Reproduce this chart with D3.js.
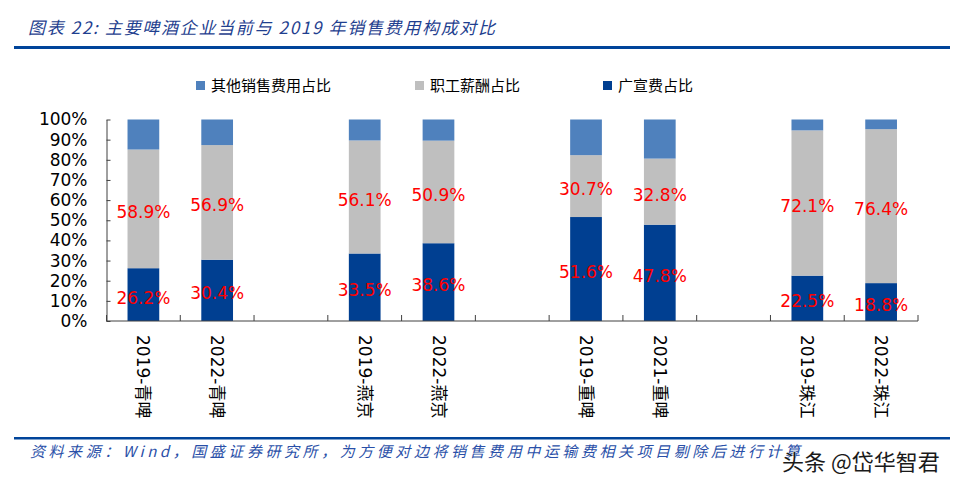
<!DOCTYPE html>
<html><head><meta charset="utf-8">
<script src="https://cdn.jsdelivr.net/npm/d3@7"></script>
<style>
html,body{margin:0;padding:0;background:#fff;}
svg{display:block;}
</style></head>
<body>
<svg id="chart" width="976" height="488"></svg>
<script>
// ---- data ----
const categories = ["2019-青啤","2022-青啤","gap1","2019-燕京","2022-燕京","gap2","2019-重啤","2021-重啤","gap3","2019-珠江","2022-珠江"];
const adShare     = [26.2, 30.4, null, 33.5, 38.6, null, 51.6, 47.8, null, 22.5, 18.8];
const salaryShare = [58.9, 56.9, null, 56.1, 50.9, null, 30.7, 32.8, null, 72.1, 76.4];
const otherShare  = [14.9, 12.7, null, 10.4, 10.5, null, 17.7, 19.4, null, 5.4, 4.8];
const yTicks = [0,10,20,30,40,50,60,70,80,90,100];
const seriesNames = ["其他销售费用占比","职工薪酬占比","广宣费占比"];
const titleText = "图表 22:  主要啤酒企业当前与 2019 年销售费用构成对比";
const sourceText = "资料来源：Wind，国盛证券研究所，为方便对边将销售费用中运输费相关项目剔除后进行计算";
const watermark = "头条 @岱华智君";

const colors = {ad:"#003F91", salary:"#BFBFBF", other:"#4F81BD"};
const svg = d3.select("#chart");

// header
svg.append("text").attr("x",28).attr("y",34)
  .attr("font-family","'Noto Sans CJK SC', sans-serif").attr("font-size",17)
  .attr("font-style","italic").attr("fill","#1F3F8F")
  .attr("textLength",467).attr("lengthAdjust","spacing")
  .text(titleText);
svg.append("rect").attr("x",14).attr("y",46).attr("width",936).attr("height",3).attr("fill","#00449A");

// scales
const x = d3.scaleBand().domain(categories).range([106.5, 918]).padding(0);
const y = d3.scaleLinear().domain([0,100]).range([321, 119.5]);
const barW = x.bandwidth()*0.43;

// stacked data
const rows = categories.map((c,i)=>({cat:c, ad:adShare[i], salary:salaryShare[i], other:otherShare[i]}))
  .filter(d=>d.ad!==null);
const stack = d3.stack().keys(["ad","salary","other"])(rows);

const g = svg.append("g");
stack.forEach(layer=>{
  g.selectAll(null).data(layer).join("rect")
    .attr("x", d=>x(d.data.cat)+x.bandwidth()/2-barW/2)
    .attr("width", barW)
    .attr("y", d=>y(d[1]))
    .attr("height", d=>y(d[0])-y(d[1]))
    .attr("fill", colors[layer.key]);
});

// axes
const yAxis = d3.axisLeft(y).tickValues(yTicks).tickFormat(d=>d+"%").tickSizeInner(-4).tickSizeOuter(0).tickPadding(19);
const ya = svg.append("g").attr("transform","translate(106.5,0)").call(yAxis);
ya.select(".domain").attr("stroke","#404040");
ya.selectAll(".tick line").attr("stroke","#404040");
ya.selectAll("text").attr("font-family","'DejaVu Sans', sans-serif").attr("font-size",17).attr("fill","#000");

const xa = svg.append("g").attr("transform","translate(0,321)");
xa.append("line").attr("x1",x.range()[0]).attr("x2",x.range()[1]).attr("stroke","#404040");
const boundaries = categories.map(c=>x(c)).concat([x.range()[1]]);
xa.selectAll(".bt").data(boundaries).join("line")
  .attr("x1",d=>d).attr("x2",d=>d).attr("y1",0).attr("y2",-6).attr("stroke","#404040");
categories.forEach(c=>{
  if (c.startsWith("gap")) return;
  xa.append("text")
    .attr("transform",`translate(${x(c)+x.bandwidth()/2},14) rotate(90)`)
    .attr("dy","0.35em")
    .attr("font-family","'DejaVu Sans', 'Noto Sans CJK SC', sans-serif").attr("font-size",17).attr("fill","#000")
    .text(c);
});

// data labels
const lab = svg.append("g").attr("font-family","'DejaVu Sans', sans-serif").attr("font-size",17)
  .attr("fill","#FF0000").attr("text-anchor","middle");
stack.filter(l=>l.key!=="other").forEach(layer=>{
  lab.selectAll(null).data(layer).join("text")
    .attr("x", d=>x(d.data.cat)+x.bandwidth()/2)
    .attr("y", d=>(y(d[0])+y(d[1]))/2+3)
    .attr("dy","0.35em")
    .text(d=>d3.format(".1f")(d.data[layer.key])+"%");
});

// legend
const legendX = [196, 415, 603];
const legendColors = [colors.other, colors.salary, colors.ad];
seriesNames.forEach((n,i)=>{
  svg.append("rect").attr("x",legendX[i]).attr("y",81).attr("width",9).attr("height",9).attr("fill",legendColors[i]);
  svg.append("text").attr("x",legendX[i]+15).attr("y",86).attr("dy","0.35em")
    .attr("font-family","'Noto Sans CJK SC', sans-serif").attr("font-size",15).attr("fill","#000").text(n);
});

// footer
svg.append("rect").attr("x",14).attr("y",437).attr("width",936).attr("height",2.5).attr("fill","#00449A");
svg.append("text").attr("x",30).attr("y",457)
  .attr("font-family","'Noto Sans CJK SC', sans-serif").attr("font-size",15)
  .attr("font-style","italic").attr("fill","#2A50A8")
  .attr("textLength",770).attr("lengthAdjust","spacing")
  .text(sourceText);
svg.append("text").attr("x",782).attr("y",470)
  .attr("font-family","'Noto Sans CJK SC', sans-serif").attr("font-size",22)
  .attr("fill","#1a1a1a").attr("stroke","#fff").attr("stroke-width",0.6)
  .attr("paint-order","stroke")
  .text(watermark);
</script>
</body></html>
